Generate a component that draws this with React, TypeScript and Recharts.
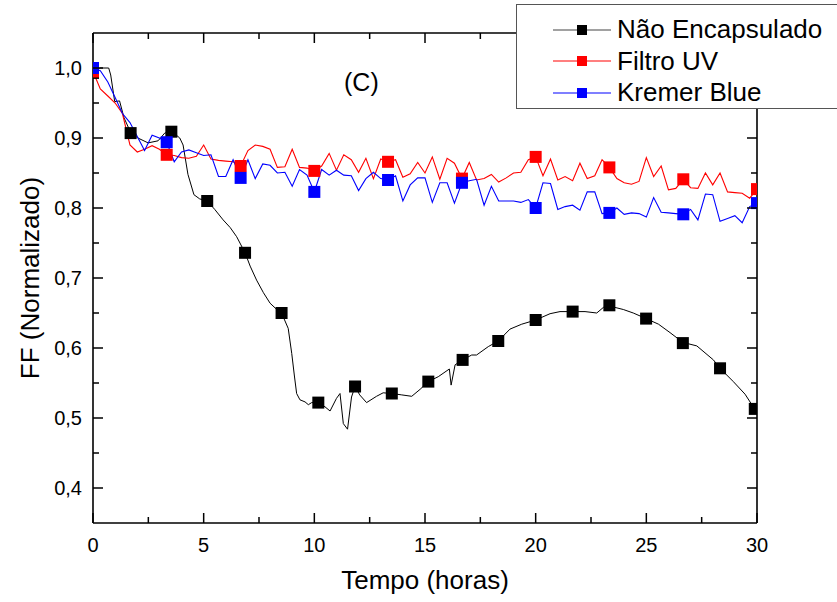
import React from "react";
import { ComposedChart, Line, Scatter, XAxis, YAxis, Legend } from "recharts";

// tempo (horas) for the filtro UV / Kremer Blue runs
const tempo = [
  0, 0.33, 0.67, 1, 1.33, 1.67, 2, 2.33, 2.67, 3, 3.33, 3.67, 4, 4.33, 4.67, 5,
  5.33, 5.67, 6, 6.33, 6.67, 7, 7.33, 7.67, 8, 8.33, 8.67, 9, 9.33, 9.67, 10,
  10.33, 10.67, 11, 11.33, 11.67, 12, 12.33, 12.67, 13, 13.33, 13.67, 14, 14.33,
  14.67, 15, 15.33, 15.67, 16, 16.33, 16.67, 17, 17.33, 17.67, 18, 18.33, 18.67,
  19, 19.33, 19.67, 20, 20.33, 20.67, 21, 21.33, 21.67, 22, 22.33, 22.67, 23,
  23.33, 23.67, 24, 24.33, 24.67, 25, 25.33, 25.67, 26, 26.33, 26.67, 27, 27.33,
  27.67, 28, 28.33, 28.67, 29, 29.33, 29.67, 30,
];

const filtroUV = [
  0.995, 0.97, 0.96, 0.95, 0.935, 0.89, 0.88, 0.884, 0.889, 0.884, 0.876, 0.875,
  0.872, 0.871, 0.874, 0.89, 0.87, 0.868, 0.867, 0.866, 0.86, 0.882, 0.89, 0.888,
  0.884, 0.858, 0.859, 0.884, 0.858, 0.857, 0.853, 0.86, 0.878, 0.854, 0.876,
  0.869, 0.851, 0.871, 0.842, 0.87, 0.866, 0.869, 0.844, 0.849, 0.865, 0.85,
  0.873, 0.841, 0.871, 0.864, 0.842, 0.865, 0.84, 0.842, 0.848, 0.837, 0.843,
  0.85, 0.851, 0.869, 0.873, 0.846, 0.87, 0.84, 0.845, 0.839, 0.864, 0.842,
  0.846, 0.869, 0.858, 0.842, 0.836, 0.834, 0.838, 0.872, 0.845, 0.86, 0.826,
  0.828, 0.841, 0.829, 0.828, 0.85, 0.833, 0.85, 0.823, 0.822, 0.821, 0.814, 0.827,
];

const kremerBlue = [
  1.0, 0.996, 0.98, 0.958, 0.935, 0.922, 0.902, 0.882, 0.904, 0.9, 0.894, 0.866,
  0.88, 0.883, 0.879, 0.875, 0.876, 0.845, 0.845, 0.869, 0.843, 0.869, 0.842,
  0.863, 0.861, 0.85, 0.851, 0.831, 0.855, 0.847, 0.823, 0.855, 0.847, 0.854,
  0.847, 0.846, 0.825, 0.842, 0.851, 0.842, 0.84, 0.846, 0.81, 0.833, 0.843,
  0.843, 0.808, 0.836, 0.836, 0.807, 0.836, 0.839, 0.841, 0.804, 0.831, 0.81,
  0.81, 0.81, 0.808, 0.812, 0.8, 0.836, 0.835, 0.798, 0.802, 0.804, 0.797, 0.823,
  0.823, 0.792, 0.793, 0.8, 0.791, 0.793, 0.792, 0.787, 0.815, 0.794, 0.793,
  0.792, 0.791, 0.798, 0.783, 0.82, 0.819, 0.781, 0.785, 0.789, 0.779, 0.802, 0.807,
];

// marcadores do filtro UV e Kremer Blue
const tempoMarcador = [0, 3.33, 6.67, 10, 13.33, 16.67, 20, 23.33, 26.67, 30];
const filtroUVMarcador = [0.995, 0.876, 0.86, 0.853, 0.866, 0.842, 0.873, 0.858, 0.841, 0.827];
const kremerMarcador = [1.0, 0.894, 0.843, 0.823, 0.84, 0.836, 0.8, 0.793, 0.791, 0.807];

// não encapsulado: curva e marcadores
const tempoNaoEnc = [
  0, 0.3, 0.45, 0.71, 0.8, 0.98, 1.2, 1.4, 1.7, 2.03, 2.49, 2.94, 3.24, 3.54,
  3.92, 4.07, 4.29, 4.56, 4.82, 5.16, 5.5, 5.88, 6.2, 6.49, 6.87, 7.1, 7.39, 7.7,
  8.0, 8.27, 8.52, 8.82, 8.98, 9.1, 9.2, 9.35, 9.58, 9.73, 9.88, 10.18, 10.48,
  10.71, 11.0, 11.16, 11.31, 11.5, 11.68, 11.84, 12.05, 12.36, 12.81, 13.11,
  13.5, 13.95, 14.4, 14.78, 15.15, 15.6, 16.1, 16.18, 16.36, 16.7, 17.11, 17.33,
  17.86, 18.31, 18.84, 19.37, 20.0, 20.65, 21.1, 21.67, 22.23, 22.76, 23.06,
  23.33, 23.96, 24.41, 24.99, 25.55, 26.07, 26.65, 27.28, 28.03, 28.33, 28.93,
  29.46, 29.87, 30,
];
const naoEncapsulado = [
  0.99, 1.0, 1.0, 1.0, 0.99, 0.952, 0.953, 0.929, 0.908, 0.9, 0.893, 0.896,
  0.907, 0.91, 0.9, 0.89, 0.848, 0.819, 0.813, 0.81, 0.798, 0.783, 0.772, 0.759,
  0.736, 0.717, 0.697, 0.679, 0.664, 0.656, 0.65, 0.628, 0.592, 0.56, 0.535,
  0.526, 0.523, 0.519, 0.522, 0.522, 0.516, 0.51, 0.528, 0.535, 0.492, 0.484,
  0.53, 0.545, 0.533, 0.522, 0.531, 0.536, 0.535, 0.533, 0.531, 0.541, 0.552,
  0.559, 0.57, 0.547, 0.576, 0.583, 0.59, 0.59, 0.602, 0.61, 0.627, 0.634, 0.64,
  0.649, 0.652, 0.652, 0.652, 0.65, 0.658, 0.66, 0.655, 0.65, 0.642, 0.634,
  0.622, 0.608, 0.603, 0.583, 0.571, 0.552, 0.534, 0.514, 0.51,
];
const tempoNaoEncMarcador = [
  0, 1.7, 3.54, 5.16, 6.87, 8.52, 10.18, 11.84, 13.5, 15.15, 16.7, 18.31, 20.0,
  21.67, 23.33, 24.99, 26.65, 28.33, 29.9,
];
const naoEncMarcador = [
  0.993, 0.907, 0.909, 0.81, 0.736, 0.65, 0.522, 0.545, 0.535, 0.552, 0.583,
  0.61, 0.64, 0.652, 0.661, 0.642, 0.607, 0.571, 0.513,
];

const xTicks = [0, 2.5, 5, 7.5, 10, 12.5, 15, 17.5, 20, 22.5, 25, 27.5, 30];
const yTicks = [0.4, 0.45, 0.5, 0.55, 0.6, 0.65, 0.7, 0.75, 0.8, 0.85, 0.9, 0.95, 1.0];

const series = [
  { name: "Não Encapsulado", color: "#000000", line: "#444444" },
  { name: "Filtro UV", color: "#ff0000", line: "#ff0000" },
  { name: "Kremer Blue", color: "#0000ff", line: "#0000ff" },
];

const pares = (xs: number[], ys: number[]) => xs.map((x, i) => ({ x, y: ys[i] }));

const FONT = "'Liberation Sans', Arial, sans-serif";

const isMajorX = (v: number) => Math.abs(v % 5) < 1e-6;
const isMajorY = (v: number) => Math.abs(v * 10 - Math.round(v * 10)) < 1e-6;

const BottomTick = ({ x, y, payload }: any) => {
  const major = isMajorX(payload.value);
  return (
    <g>
      <line x1={x} y1={y} x2={x} y2={y - (major ? 10 : 6)} stroke="#000" strokeWidth={1.5} />
      {major && (
        <text x={x} y={y + 29} textAnchor="middle" fontSize={20} fontFamily={FONT} fill="#000">
          {payload.value}
        </text>
      )}
    </g>
  );
};

const TopTick = ({ x, y, payload }: any) => {
  const major = isMajorX(payload.value);
  return <line x1={x} y1={y} x2={x} y2={y + (major ? 10 : 6)} stroke="#000" strokeWidth={1.5} />;
};

const LeftTick = ({ x, y, payload }: any) => {
  const major = isMajorY(payload.value);
  return (
    <g>
      <line x1={x} y1={y} x2={x + (major ? 10 : 6)} y2={y} stroke="#000" strokeWidth={1.5} />
      {major && (
        <text x={x - 11} y={y + 7} textAnchor="end" fontSize={20} fontFamily={FONT} fill="#000">
          {payload.value.toFixed(1).replace(".", ",")}
        </text>
      )}
    </g>
  );
};

const RightTick = ({ x, y, payload }: any) => {
  const major = isMajorY(payload.value);
  return <line x1={x} y1={y} x2={x - (major ? 10 : 6)} y2={y} stroke="#000" strokeWidth={1.5} />;
};

const quadrado = (cor: string) => (props: any) => (
  <rect x={props.cx - 6} y={props.cy - 6} width={12} height={12} fill={cor} />
);

const Legenda = () => (
  <div
    style={{
      width: 321,
      height: 105,
      boxSizing: "border-box",
      border: "1.5px solid #555",
      borderRight: "none",
      background: "#fff",
      fontFamily: FONT,
      fontSize: 26,
      paddingTop: 9,
    }}
  >
    {series.map((s) => (
      <div key={s.name} style={{ display: "flex", alignItems: "center", height: 31.5 }}>
        <svg width={100} height={14} style={{ flex: "none" }}>
          <line x1={36} y1={7} x2={94} y2={7} stroke={s.line} strokeWidth={1.2} />
          <rect x={60} y={2} width={10} height={10} fill={s.color} />
        </svg>
        <span style={{ color: "#000", whiteSpace: "nowrap" }}>{s.name}</span>
      </div>
    ))}
  </div>
);

export default function App() {
  return (
    <div style={{ position: "absolute", left: 0, top: 0, width: 837, height: 602, overflow: "hidden", background: "#fff" }}>
      <ComposedChart width={837} height={602} margin={{ top: 23, right: 60, bottom: 49, left: 33 }}>
        <XAxis
          xAxisId="base"
          type="number"
          dataKey="x"
          domain={[0, 30]}
          ticks={xTicks}
          interval={0}
          tickSize={0}
          tickMargin={0}
          tickLine={false}
          height={30}
          axisLine={{ stroke: "#000", strokeWidth: 1.6 }}
          tick={<BottomTick />}
          allowDataOverflow
        />
        <XAxis
          xAxisId="topo"
          orientation="top"
          type="number"
          dataKey="x"
          domain={[0, 30]}
          ticks={xTicks}
          interval={0}
          tickSize={0}
          tickMargin={0}
          tickLine={false}
          height={10}
          axisLine={{ stroke: "#000", strokeWidth: 1.6 }}
          tick={<TopTick />}
          allowDataOverflow
        />
        <YAxis
          yAxisId="esq"
          type="number"
          domain={[0.35, 1.05]}
          ticks={yTicks}
          interval={0}
          tickSize={0}
          tickMargin={0}
          tickLine={false}
          width={60}
          axisLine={{ stroke: "#000", strokeWidth: 1.6 }}
          tick={<LeftTick />}
          allowDataOverflow
        />
        <YAxis
          yAxisId="dir"
          orientation="right"
          type="number"
          domain={[0.35, 1.05]}
          ticks={yTicks}
          interval={0}
          tickSize={0}
          tickMargin={0}
          tickLine={false}
          width={20}
          axisLine={{ stroke: "#000", strokeWidth: 1.6 }}
          tick={<RightTick />}
          allowDataOverflow
        />
        <Legend
          layout="vertical"
          align="center"
          verticalAlign="middle"
          content={() => <Legenda />}
          wrapperStyle={{ left: 516, top: 4, width: 321, height: 105 }}
        />
        <Line
          xAxisId="base"
          yAxisId="esq"
          data={pares(tempoNaoEnc, naoEncapsulado)}
          dataKey="y"
          name="Não Encapsulado"
          type="linear"
          stroke="#000"
          strokeWidth={1}
          dot={false}
          activeDot={false}
          isAnimationActive={false}
          legendType="none"
        />
        <Scatter
          xAxisId="base"
          yAxisId="esq"
          data={pares(tempoNaoEncMarcador, naoEncMarcador)}
          dataKey="y"
          shape={quadrado("#000")}
          isAnimationActive={false}
          legendType="none"
        />
        <Line
          xAxisId="base"
          yAxisId="esq"
          data={pares(tempo, filtroUV)}
          dataKey="y"
          name="Filtro UV"
          type="linear"
          stroke="#ff0000"
          strokeWidth={1.1}
          dot={false}
          activeDot={false}
          isAnimationActive={false}
          legendType="none"
        />
        <Scatter
          xAxisId="base"
          yAxisId="esq"
          data={pares(tempoMarcador, filtroUVMarcador)}
          dataKey="y"
          shape={quadrado("#ff0000")}
          isAnimationActive={false}
          legendType="none"
        />
        <Line
          xAxisId="base"
          yAxisId="esq"
          data={pares(tempo, kremerBlue)}
          dataKey="y"
          name="Kremer Blue"
          type="linear"
          stroke="#0000ff"
          strokeWidth={1.1}
          dot={false}
          activeDot={false}
          isAnimationActive={false}
          legendType="none"
        />
        <Scatter
          xAxisId="base"
          yAxisId="esq"
          data={pares(tempoMarcador, kremerMarcador)}
          dataKey="y"
          shape={quadrado("#0000ff")}
          isAnimationActive={false}
          legendType="none"
        />
      </ComposedChart>
      <div style={{ position: "absolute", left: 344, top: 68, fontFamily: FONT, fontSize: 25, lineHeight: "29px" }}>
        (C)
      </div>
      <div
        style={{
          position: "absolute",
          left: 425,
          top: 580,
          transform: "translate(-50%, -50%)",
          fontFamily: FONT,
          fontSize: 26,
          whiteSpace: "nowrap",
        }}
      >
        Tempo (horas)
      </div>
      <div
        style={{
          position: "absolute",
          left: 30,
          top: 278,
          transform: "translate(-50%, -50%) rotate(-90deg)",
          fontFamily: FONT,
          fontSize: 26,
          whiteSpace: "nowrap",
        }}
      >
        FF (Normalizado)
      </div>
    </div>
  );
}
